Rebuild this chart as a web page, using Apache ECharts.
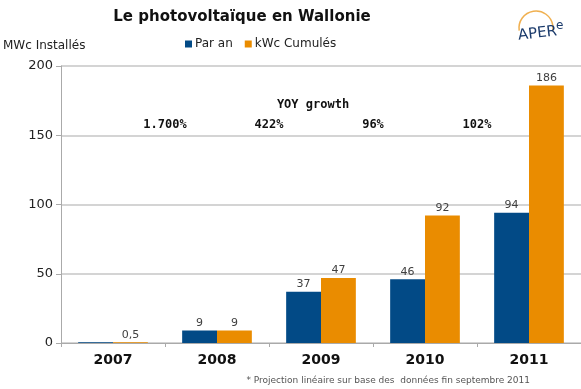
<!DOCTYPE html>
<html>
<head>
<meta charset="utf-8">
<script src="https://cdn.jsdelivr.net/npm/echarts@6/dist/echarts.min.js"></script>
<style>html,body{margin:0;padding:0;background:#fff}#c{width:581px;height:389px}</style>
</head>
<body>
<div id="c"></div>
<script>
const categories = ['2007', '2008', '2009', '2010', '2011'];
const parAn = [0.5, 9, 37, 46, 94];
const cumules = [0.5, 9, 47, 92, 186];
const yoyGrowth = ['1.700%', '422%', '96%', '102%'];
const yTicks = [0, 50, 100, 150, 200];

const chart = echarts.init(document.getElementById('c'), null, {renderer: 'canvas'});
const fmt = p => String(p.value).replace('.', ',');
const labelStyle = {show: true, position: 'top', distance: 2, color: '#404040', fontSize: 11, fontFamily: 'DejaVu Sans', formatter: fmt};

chart.setOption({
  animation: false,
  backgroundColor: '#fff',
  title: [
    {text: 'Le photovoltaïque en Wallonie', left: 237, top: 5, textAlign: 'center',
     textStyle: {fontFamily: 'DejaVu Sans', fontWeight: 'bold', fontSize: 15, color: '#111'}},
    {text: '* Projection linéaire sur base des  données fin septembre 2011', right: 46, top: 371,
     textStyle: {fontFamily: 'DejaVu Sans', fontWeight: 'normal', fontSize: 9, color: '#555'}}
  ],
  legend: {
    top: 33, left: 180, itemWidth: 7, itemHeight: 7, itemGap: 12,
    icon: 'rect',
    textStyle: {fontFamily: 'DejaVu Sans', fontSize: 12, color: '#222', padding: [0, 0, 0, -2]},
    data: ['Par an', 'kWc Cumulés']
  },
  grid: {left: 61, right: 0, top: 66, bottom: 46},
  xAxis: {
    type: 'category', data: categories,
    axisLine: {lineStyle: {color: '#aaa'}},
    axisTick: {show: true, length: 4, lineStyle: {color: '#aaa'}},
    axisLabel: {fontFamily: 'DejaVu Sans', fontWeight: 'bold', fontSize: 14, color: '#111', margin: 10}
  },
  yAxis: {
    type: 'value', min: yTicks[0], max: yTicks[yTicks.length - 1], interval: 50,
    axisLine: {show: true, lineStyle: {color: '#aaa'}},
    axisTick: {show: true, length: 5, lineStyle: {color: '#aaa'}},
    axisLabel: {fontFamily: 'DejaVu Sans', fontSize: 13, color: '#222', margin: 8},
    splitLine: {lineStyle: {color: '#d4d4d4', width: 2}}
  },
  series: [
    {name: 'Par an', type: 'bar', barWidth: '33.5%', barGap: '0%', itemStyle: {color: '#024a86'},
     label: labelStyle,
     data: parAn.map((v, i) => i === 0 ? {value: v, label: {show: false}} : v)},
    {name: 'kWc Cumulés', type: 'bar', barWidth: '33.5%', barGap: '0%', itemStyle: {color: '#ea8c00'},
     label: labelStyle,
     data: cumules}
  ]
});

const elems = [];
const centers = categories.map(c => chart.convertToPixel({xAxisIndex: 0}, c));
yoyGrowth.forEach((t, i) => {
  elems.push({type: 'text', x: (centers[i] + centers[i + 1]) / 2, y: 125,
    style: {text: t, fill: '#111', font: 'bold 12px "DejaVu Sans Mono"', textAlign: 'center', textVerticalAlign: 'middle'}});
});
elems.push({type: 'text', x: (centers[2] + centers[3]) / 2 - 60, y: 105,
  style: {text: 'YOY growth', fill: '#111', font: 'bold 12px "DejaVu Sans Mono"', textAlign: 'center', textVerticalAlign: 'middle'}});
elems.push({type: 'text', x: 3, y: 46,
  style: {text: 'MWc Installés', fill: '#222', font: '12px "DejaVu Sans"', textAlign: 'left', textVerticalAlign: 'middle'}});
// logo
elems.push({type: 'arc', shape: {cx: 536, cy: 28, r: 17, startAngle: Math.PI * 0.95, endAngle: Math.PI * 2.05},
  style: {stroke: '#f0b050', lineWidth: 1.5, fill: null}});
elems.push({type: 'text', x: 518, y: 36, rotation: 0.12,
  style: {text: 'APER', fill: '#1a3a6b', font: '15px "DejaVu Sans"', textAlign: 'left', textVerticalAlign: 'middle'}});
elems.push({type: 'text', x: 556, y: 26,
  style: {text: 'e', fill: '#1a3a6b', font: '12px "DejaVu Sans"', textAlign: 'left', textVerticalAlign: 'middle'}});
chart.setOption({graphic: elems});
</script>
</body>
</html>
